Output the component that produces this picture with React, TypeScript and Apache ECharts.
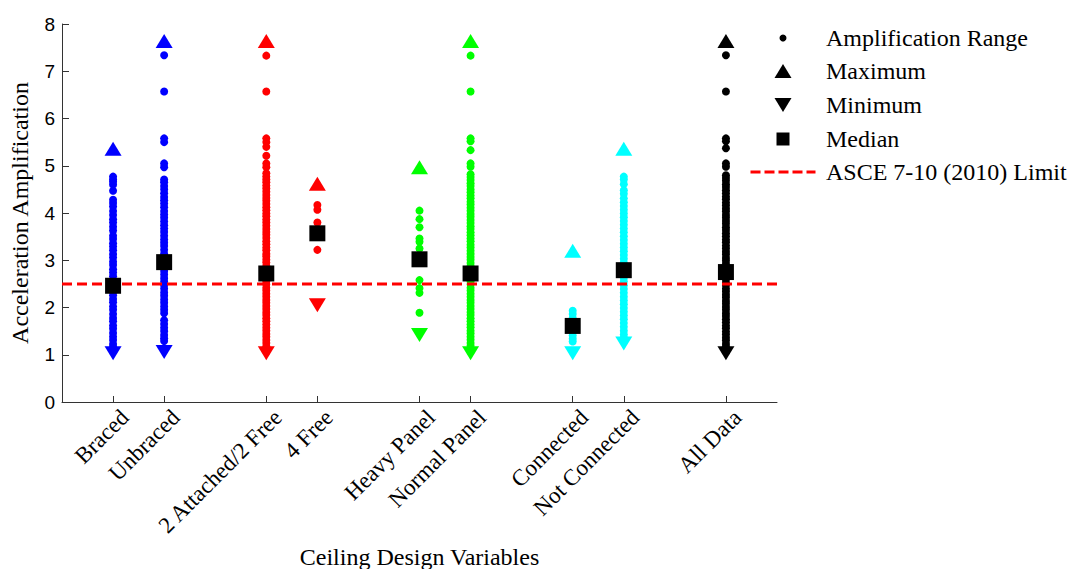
import React, { useEffect, useRef } from 'react';
import * as echarts from 'echarts';

// ---- data ----
const groupNames = ['Braced', 'Unbraced', '2 Attached/2 Free', '4 Free', 'Heavy Panel', 'Normal Panel', 'Connected', 'Not Connected', 'All Data'];
const groupSlots = [1, 2, 4, 5, 7, 8, 10, 11, 13];

const bracedRange = [4.77, 4.71, 4.66, 4.6, 4.47, 4.28, 4.21, 4.14, 4.04, 3.96, 3.87, 3.8, 3.71, 3.63, 3.52, 3.45, 3.36, 3.29, 3.21, 3.13, 3.06, 2.97, 2.9, 2.81, 2.74, 2.66, 2.58, 2.5, 2.41, 2.34, 2.26, 2.18, 2.11, 2.02, 1.95, 1.86, 1.78, 1.71, 1.62, 1.55, 1.46, 1.38, 1.31, 1.23, 1.17];
const unbracedRange = [7.34, 6.57, 5.58, 5.5, 5.05, 4.97, 4.71, 4.65, 4.57, 4.5, 4.42, 4.34, 4.27, 4.2, 4.12, 4.04, 3.97, 3.9, 3.82, 3.74, 3.67, 3.6, 3.52, 3.44, 3.37, 3.3, 3.22, 3.14, 3.07, 3.0, 2.92, 2.84, 2.77, 2.7, 2.62, 2.55, 2.47, 2.4, 2.32, 2.25, 2.17, 2.1, 2.02, 1.95, 1.88, 1.73, 1.65, 1.57, 1.5, 1.42, 1.35, 1.29];
const twoAttachedRange = [7.33, 6.57, 5.58, 5.5, 5.4, 5.21, 5.05, 4.97, 4.84, 4.77, 4.71, 4.65, 4.58, 4.52, 4.45, 4.38, 4.32, 4.26, 4.19, 4.12, 4.06, 3.99, 3.93, 3.86, 3.8, 3.73, 3.66, 3.6, 3.54, 3.47, 3.4, 3.34, 3.27, 3.21, 3.14, 3.08, 3.01, 2.95, 2.88, 2.81, 2.75, 2.68, 2.62, 2.55, 2.49, 2.42, 2.36, 2.29, 2.23, 2.16, 2.1, 2.03, 1.97, 1.9, 1.84, 1.77, 1.71, 1.64, 1.57, 1.51, 1.44, 1.38, 1.31, 1.25, 1.18, 1.12, 1.07];
const fourFreeRange = [4.17, 4.07, 3.8, 3.22];
const heavyPanelRange = [4.05, 3.87, 3.7, 3.46, 3.39, 3.25, 2.58, 2.41, 2.31, 1.89];
const normalPanelRange = [7.33, 6.57, 5.58, 5.52, 5.33, 5.05, 4.98, 4.82, 4.76, 4.7, 4.63, 4.57, 4.5, 4.44, 4.37, 4.31, 4.24, 4.18, 4.11, 4.05, 3.98, 3.92, 3.85, 3.79, 3.72, 3.66, 3.59, 3.53, 3.46, 3.4, 3.33, 3.27, 3.2, 3.14, 3.07, 3.01, 2.94, 2.88, 2.81, 2.75, 2.68, 2.62, 2.55, 2.49, 2.42, 2.36, 2.29, 2.23, 2.16, 2.1, 2.03, 1.97, 1.9, 1.84, 1.77, 1.71, 1.64, 1.58, 1.51, 1.45, 1.38, 1.32, 1.25, 1.19, 1.12, 1.07];
const connectedRange = [1.93, 1.86, 1.78, 1.71, 1.63, 1.55, 1.48, 1.41, 1.34, 1.28];
const notConnectedRange = [4.77, 4.71, 4.61, 4.48, 4.41, 4.31, 4.23, 4.15, 4.07, 3.99, 3.91, 3.83, 3.75, 3.67, 3.59, 3.51, 3.43, 3.35, 3.27, 3.19, 3.11, 3.03, 2.95, 2.87, 2.79, 2.71, 2.63, 2.55, 2.47, 2.39, 2.31, 2.23, 2.15, 2.07, 1.99, 1.91, 1.83, 1.75, 1.67, 1.59, 1.51, 1.43, 1.36, 1.31];
const allDataRange = [7.34, 6.57, 5.58, 5.52, 5.37, 5.05, 4.98, 4.8, 4.74, 4.68, 4.61, 4.55, 4.48, 4.42, 4.35, 4.29, 4.22, 4.16, 4.09, 4.03, 3.96, 3.9, 3.83, 3.77, 3.7, 3.64, 3.57, 3.51, 3.44, 3.38, 3.31, 3.25, 3.18, 3.12, 3.05, 2.99, 2.92, 2.86, 2.79, 2.73, 2.66, 2.6, 2.53, 2.47, 2.4, 2.34, 2.27, 2.21, 2.14, 2.08, 2.01, 1.95, 1.88, 1.82, 1.75, 1.69, 1.62, 1.56, 1.49, 1.43, 1.36, 1.3, 1.23, 1.17, 1.11, 1.07];

const rangeValues = [bracedRange, unbracedRange, twoAttachedRange, fourFreeRange, heavyPanelRange, normalPanelRange, connectedRange, notConnectedRange, allDataRange];
const maximumValues = [5.36, 7.64, 7.64, 4.62, 4.97, 7.64, 3.2, 5.36, 7.64];
const minimumValues = [1.03, 1.06, 1.03, 2.05, 1.42, 1.03, 1.03, 1.24, 1.03];
const medianValues = [2.46, 2.96, 2.72, 3.57, 3.02, 2.72, 1.61, 2.79, 2.75];
const limitValue = 2.5;

const seriesNames = ['Amplification Range', 'Maximum', 'Minimum', 'Median', 'ASCE 7-10 (2010) Limit'];
const xTitle = 'Ceiling Design Variables';
const yTitle = 'Acceleration Amplification';

// ---- styles ----
const groupColors = ['#0000ff', '#0000ff', '#ff0000', '#ff0000', '#00ff00', '#00ff00', '#00ffff', '#00ffff', '#000000'];
const SERIF = "'Times New Roman', 'Liberation Serif', serif";
const SANS = "Arial, 'Liberation Sans', sans-serif";
const downTriangle = 'path://M0,0L17,0L8.5,14Z';
const dashedIcon = 'path://M0,0h10v3h-10z M14,0h10v3h-10z M28,0h10v3h-10z M42,0h10v3h-10z M56,0h9v3h-9z';

function legendBlock(name: string, icon: string, w: number, h: number, centerY: number, color: string) {
  const iconLeft = 783 - w / 2;
  const textPad = 826 - (iconLeft + w + 5);
  return {
    data: [{ name, icon, itemStyle: { color } }],
    orient: 'vertical',
    left: iconLeft,
    top: centerY - 14,
    padding: 0,
    itemWidth: w,
    itemHeight: h,
    selectedMode: false,
    textStyle: {
      fontFamily: SERIF,
      fontSize: 24,
      lineHeight: 28,
      color: '#000',
      padding: [0, 0, 0, textPad],
    },
  };
}

export default function App() {
  const ref = useRef<HTMLDivElement>(null);
  useEffect(() => {
    if (!ref.current) return;
    const chart = echarts.init(ref.current, undefined, { renderer: 'svg' });

    const rangeData: any[] = [];
    rangeValues.forEach((vals, gi) => {
      vals.forEach((v) => {
        rangeData.push({ value: [groupSlots[gi], v], itemStyle: { color: groupColors[gi] } });
      });
    });
    const maxData = maximumValues.map((v, gi) => ({ value: [groupSlots[gi], v], itemStyle: { color: groupColors[gi] } }));
    const minData = minimumValues.map((v, gi) => ({ value: [groupSlots[gi], v], itemStyle: { color: groupColors[gi] } }));
    const medData = medianValues.map((v, gi) => [groupSlots[gi], v]);

    const labelFor = (val: number) => {
      const idx = groupSlots.indexOf(Math.round(val));
      return idx >= 0 ? groupNames[idx] : '';
    };

    chart.setOption({
      animation: false,
      backgroundColor: '#ffffff',
      grid: { left: 62, right: 298, top: 24, bottom: 167, containLabel: false, outerBoundsMode: 'none' },
      xAxis: {
        type: 'value',
        min: 0,
        max: 14,
        name: xTitle,
        nameLocation: 'middle',
        nameGap: 143,
        nameMoveOverlap: false,
        nameTextStyle: { fontFamily: SERIF, fontSize: 24, color: '#000' },
        axisLine: { show: true, lineStyle: { color: '#333', width: 1 } },
        axisTick: { show: true, inside: true, length: 6, customValues: groupSlots, lineStyle: { color: '#333' } },
        axisLabel: {
          show: true,
          customValues: groupSlots,
          rotate: 45,
          margin: 0,
          verticalAlign: 'top',
          lineHeight: 33,
          hideOverlap: false,
          showMinLabel: true,
          showMaxLabel: true,
          fontFamily: SERIF,
          fontSize: 23,
          color: '#000',
          formatter: (val: number) => labelFor(val),
        },
        splitLine: { show: false },
      },
      yAxis: {
        type: 'value',
        min: 0,
        max: 8,
        interval: 1,
        name: yTitle,
        nameLocation: 'middle',
        nameRotate: 90,
        nameGap: 30,
        nameTextStyle: { fontFamily: SERIF, fontSize: 24, color: '#000' },
        axisLine: { show: true, lineStyle: { color: '#333', width: 1 } },
        axisTick: { show: true, inside: true, length: 7, lineStyle: { color: '#333' } },
        axisLabel: { fontFamily: SANS, fontSize: 19, color: '#000', margin: 7 },
        splitLine: { show: false },
      },
      legend: [
        legendBlock(seriesNames[0], 'circle', 7, 7, 38, '#000'),
        legendBlock(seriesNames[1], 'triangle', 17, 14, 71, '#000'),
        legendBlock(seriesNames[2], downTriangle, 17, 14, 105, '#000'),
        legendBlock(seriesNames[3], 'rect', 13, 13, 139, '#000'),
        legendBlock(seriesNames[4], dashedIcon, 65, 3, 172, '#ff0000'),
      ],
      series: [
        {
          name: seriesNames[0],
          type: 'scatter',
          symbol: 'circle',
          symbolSize: 8,
          itemStyle: { color: '#000', opacity: 1 },
          data: rangeData,
          z: 2,
        },
        {
          name: seriesNames[4],
          type: 'line',
          symbol: 'none',
          data: [[0, limitValue], [14, limitValue]],
          lineStyle: { color: '#ff0000', width: 3, type: [10, 5] },
          itemStyle: { color: '#ff0000' },
          z: 3,
        },
        {
          name: seriesNames[1],
          type: 'scatter',
          symbol: 'triangle',
          symbolSize: [17, 14],
          itemStyle: { color: '#000', opacity: 1 },
          data: maxData,
          z: 4,
        },
        {
          name: seriesNames[2],
          type: 'scatter',
          symbol: downTriangle,
          symbolSize: [17, 14],
          itemStyle: { color: '#000', opacity: 1 },
          data: minData,
          z: 4,
        },
        {
          name: seriesNames[3],
          type: 'scatter',
          symbol: 'rect',
          symbolSize: 16,
          itemStyle: { color: '#000', opacity: 1 },
          data: medData,
          z: 5,
        },
      ],
    });
    return () => chart.dispose();
  }, []);

  return <div ref={ref} style={{ position: 'fixed', left: 0, top: 0, width: 1075, height: 569, background: '#fff' }} />;
}
